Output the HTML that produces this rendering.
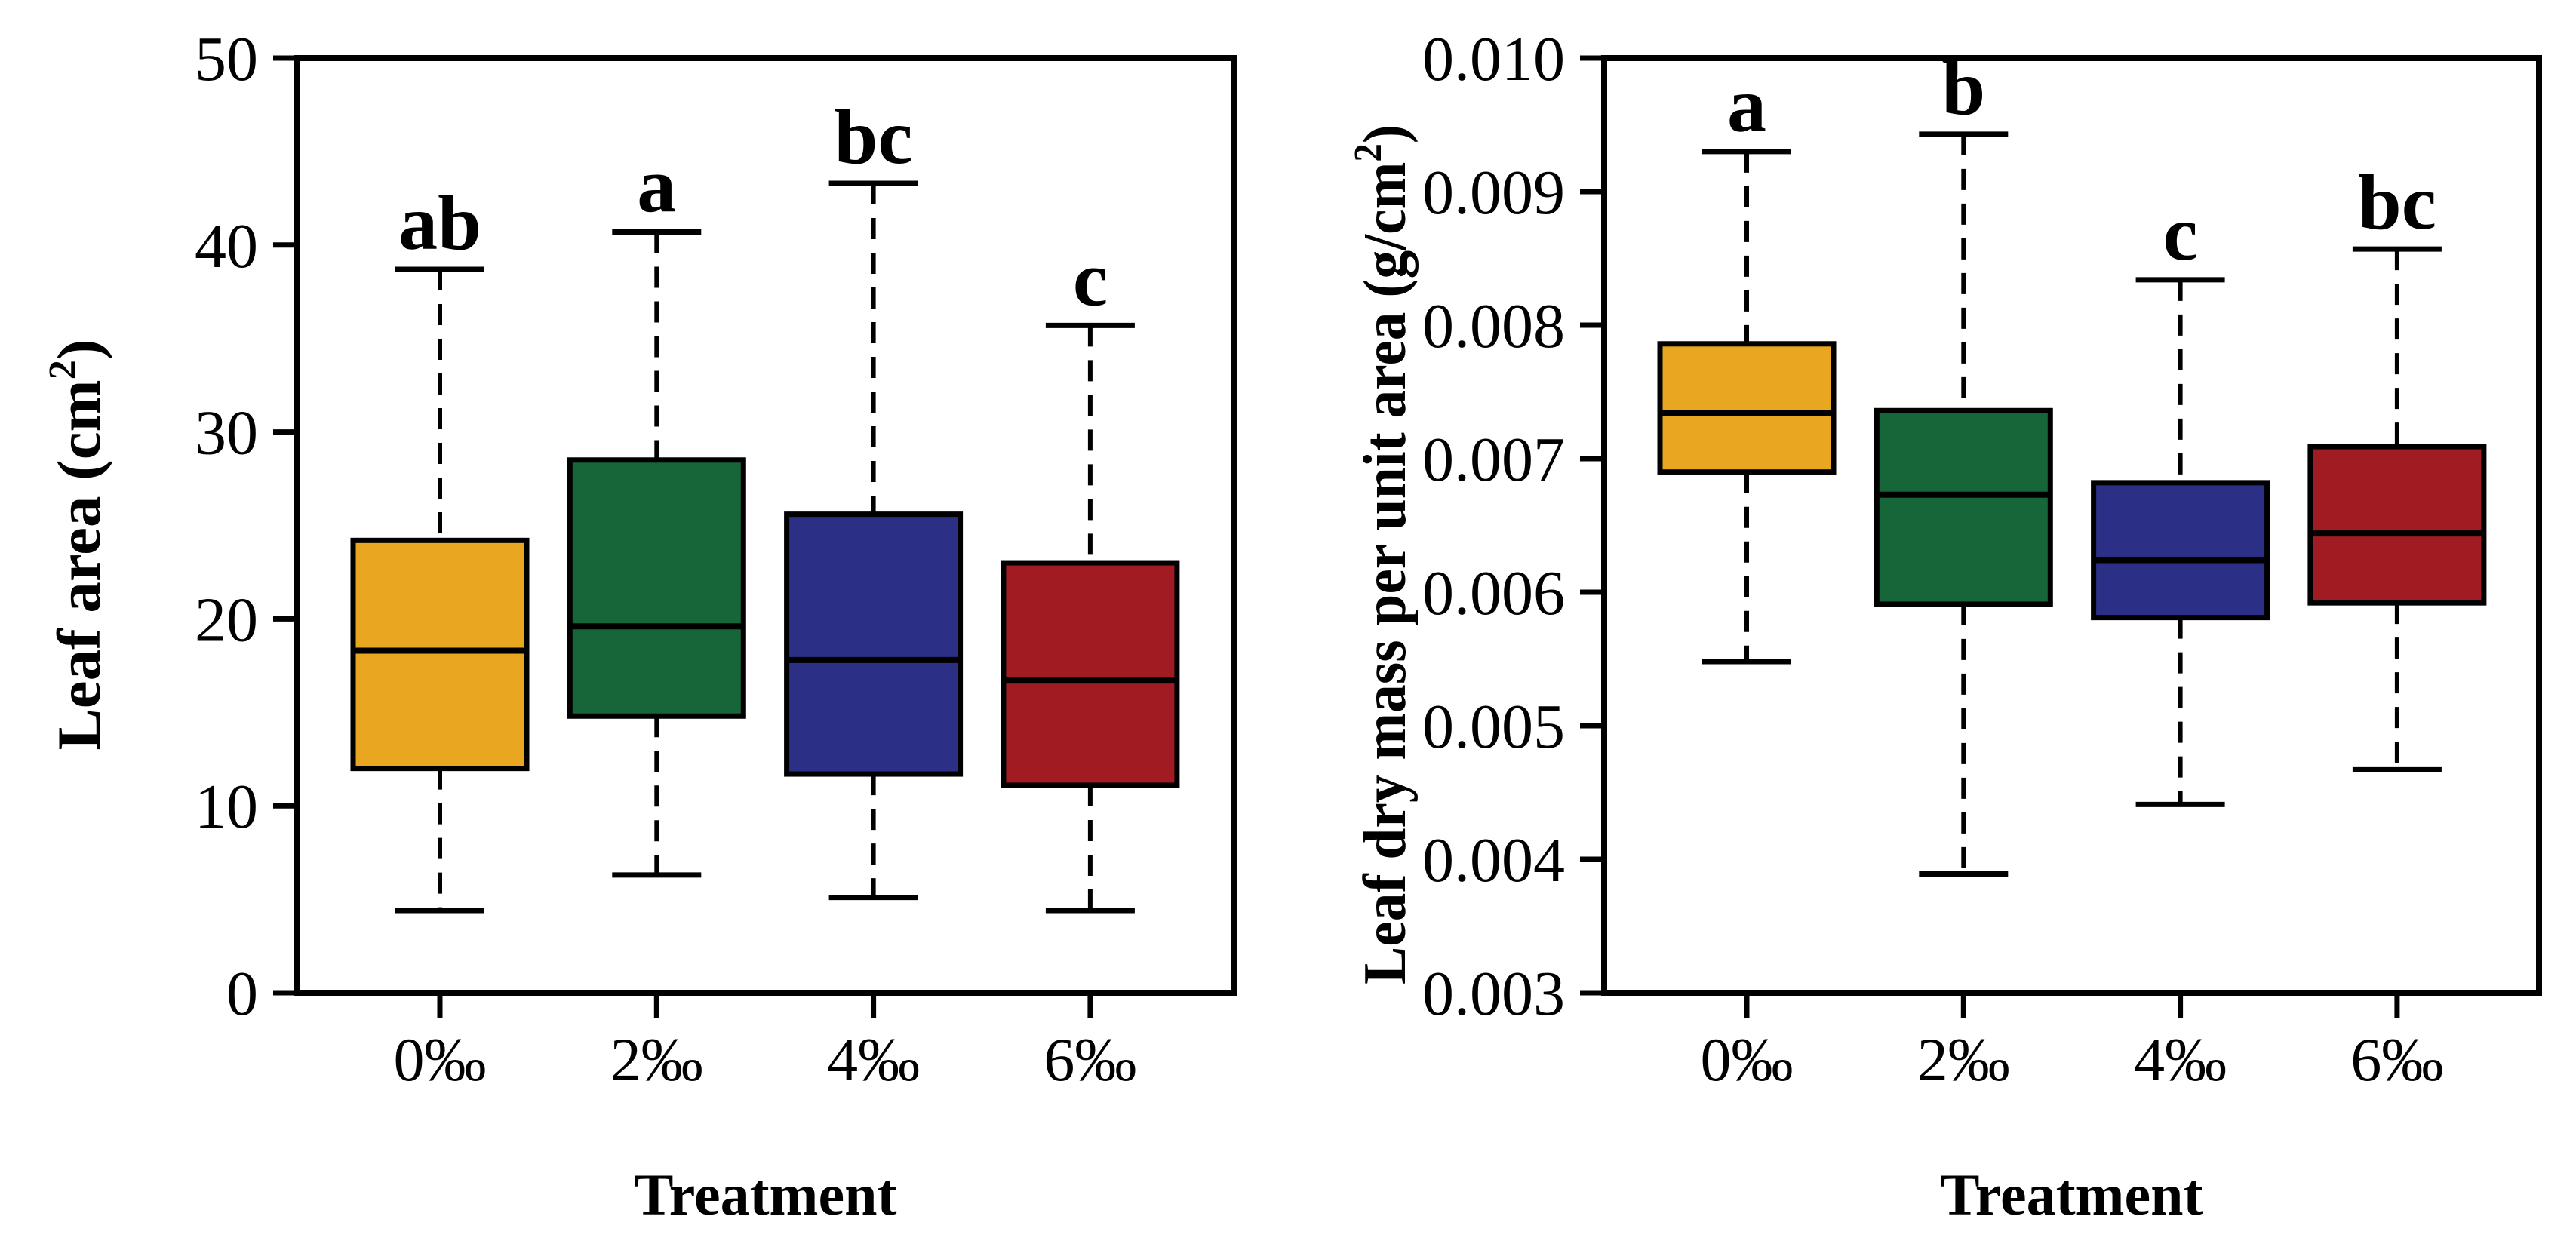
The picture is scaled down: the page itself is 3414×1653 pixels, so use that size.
<!DOCTYPE html>
<html><head><meta charset="utf-8"><style>
html,body{margin:0;padding:0;background:#fff;}
svg{display:block;}
text{font-family:"Liberation Serif",serif;fill:#000;}
</style></head><body>
<svg id="chart" width="3414" height="1653" viewBox="0 0 3414 1653" xmlns="http://www.w3.org/2000/svg"></svg>
<script>
const categories = ["0‰","2‰","4‰","6‰"];
const colors = ["#E8A621","#17663A","#2B2F85","#A11C22"];
// Panel A: leaf area
const laLow = [4.4, 6.3, 5.1, 4.4];
const laQ1 = [12.0, 14.8, 11.7, 11.1];
const laMed = [18.3, 19.6, 17.8, 16.7];
const laQ3 = [24.2, 28.5, 25.6, 23.0];
const laHigh = [38.7, 40.7, 43.3, 35.7];
const laLetters = ["ab","a","bc","c"];
const laTicks = [0,10,20,30,40,50];
const laTickLabels = ["0","10","20","30","40","50"];
// Panel B: leaf dry mass per unit area
const lmLow = [0.00548, 0.00389, 0.00441, 0.00467];
const lmQ1 = [0.00690, 0.00591, 0.00581, 0.00592];
const lmMed = [0.00734, 0.00673, 0.00624, 0.00644];
const lmQ3 = [0.00786, 0.00736, 0.00682, 0.00709];
const lmHigh = [0.00930, 0.00943, 0.00834, 0.00857];
const lmLetters = ["a","b","c","bc"];
const lmTicks = [0.003,0.004,0.005,0.006,0.007,0.008,0.009,0.010];
const lmTickLabels = ["0.003","0.004","0.005","0.006","0.007","0.008","0.009","0.010"];

const NS = "http://www.w3.org/2000/svg";
const svg = document.getElementById("chart");
function mk(tag, attrs, parent){
  const e = document.createElementNS(NS, tag);
  for (const k in attrs) e.setAttribute(k, attrs[k]);
  (parent||svg).appendChild(e);
  return e;
}

function panel(cfg){
  const g = mk("g", {});
  
  
  const L=cfg.left, R=cfg.right, T=77, B=1316;
  const y = v => B - (v - cfg.ymin)/(cfg.ymax - cfg.ymin)*(B-T);
  const x = i => L + 189 + i*287.3;
  cfg.ticks.forEach((t,i)=>{
    const ln = mk("line",{x1:L-32,x2:L,y1:y(t),y2:y(t),stroke:"#000","stroke-width":7},g);
    
    
    const tx = mk("text",{x:L-52,y:y(t)+29,"text-anchor":"end","font-size":84},g);
    tx.textContent = cfg.tickLabels[i];
    
    
  });
  categories.forEach((c,i)=>{
    const cx = x(i);
    const bg = mk("g",{},g);
    
    
    const w1 = mk("line",{x1:cx,x2:cx,y1:y(cfg.high[i]),y2:y(cfg.q3[i]),stroke:"#000","stroke-width":6,"stroke-dasharray":"28 18"},bg);
    
    
    const w2 = mk("line",{x1:cx,x2:cx,y1:y(cfg.q1[i]),y2:y(cfg.low[i]),stroke:"#000","stroke-width":6,"stroke-dasharray":"28 18"},bg);
    
    
    const c1 = mk("line",{x1:cx-59,x2:cx+59,y1:y(cfg.high[i]),y2:y(cfg.high[i]),stroke:"#000","stroke-width":7},bg);
    
    
    const c2 = mk("line",{x1:cx-59,x2:cx+59,y1:y(cfg.low[i]),y2:y(cfg.low[i]),stroke:"#000","stroke-width":7},bg);
    
    
    const r = mk("rect",{x:cx-115,y:y(cfg.q3[i]),width:230,height:y(cfg.q1[i])-y(cfg.q3[i]),fill:colors[i],stroke:"#000","stroke-width":7},bg);
    
    
    const m = mk("line",{x1:cx-115,x2:cx+115,y1:y(cfg.med[i]),y2:y(cfg.med[i]),stroke:"#000","stroke-width":8},bg);
    
    
    const lt = mk("text",{x:cx,y:y(cfg.high[i])-27,"text-anchor":"middle","font-size":104,"font-weight":"bold"},bg);
    lt.textContent = cfg.letters[i];
    
    
    const xt = mk("line",{x1:cx,x2:cx,y1:B,y2:B+33,stroke:"#000","stroke-width":7},g);
    
    
    const xl = mk("text",{x:cx,y:1432,"text-anchor":"middle","font-size":82},g);
    xl.textContent = c;
    
    
  });
  const fr = mk("rect",{x:L,y:T,width:R-L,height:B-T,fill:"none",stroke:"#000","stroke-width":8},g);
  
  
  const xtl = mk("text",{x:(L+R)/2,y:1610,"text-anchor":"middle","font-size":78,"font-weight":"bold"},g);
  xtl.textContent = "Treatment";
  
  
  const ytl = mk("text",{x:0,y:0,"text-anchor":"middle","font-size":cfg.yfs,"font-weight":"bold",textLength:cfg.ylen,lengthAdjust:"spacingAndGlyphs",transform:"translate("+cfg.ytx+","+cfg.yty+") rotate(-90)"},g);
  
  
  ytl.innerHTML = cfg.ytitle;
}

panel({name:"leaf-area-panel",left:394,right:1635,ymin:0,ymax:50,ticks:laTicks,tickLabels:laTickLabels,
  low:laLow,q1:laQ1,med:laMed,q3:laQ3,high:laHigh,letters:laLetters,ytx:132,yty:722,yfs:82,ylen:545,
  ytitle:'Leaf area (cm<tspan font-size="52" dy="-32">2</tspan><tspan dy="32">)</tspan>'});
panel({name:"leaf-mass-per-area-panel",left:2126,right:3365,ymin:0.003,ymax:0.010,ticks:lmTicks,tickLabels:lmTickLabels,
  low:lmLow,q1:lmQ1,med:lmMed,q3:lmQ3,high:lmHigh,letters:lmLetters,ytx:1862,yty:735,yfs:80,ylen:1140,
  ytitle:'Leaf dry mass per unit area (g/cm<tspan font-size="52" dy="-32">2</tspan><tspan dy="32">)</tspan>'});
</script>
</body></html>
